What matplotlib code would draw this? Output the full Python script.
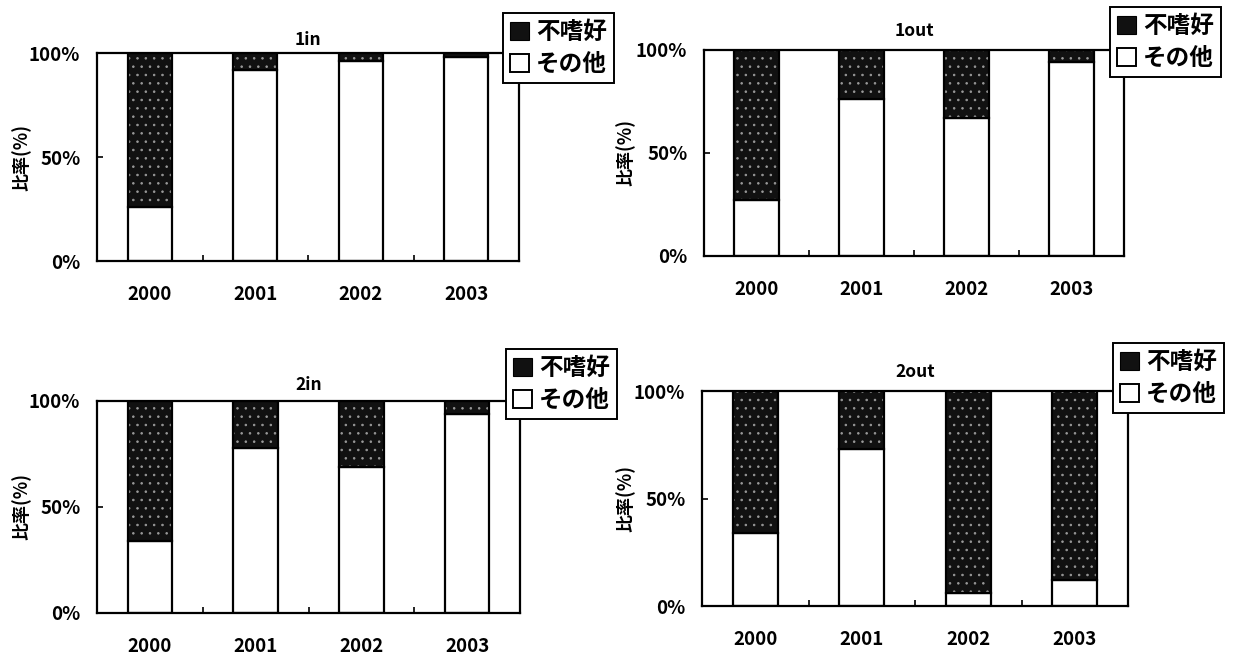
import matplotlib
matplotlib.use("Agg")
import matplotlib.pyplot as plt
from matplotlib.patches import Patch
from matplotlib.ticker import FixedLocator

plt.rcParams['font.family'] = ['Noto Sans CJK JP', 'DejaVu Sans']
plt.rcParams['font.weight'] = 'bold'
plt.rcParams['hatch.linewidth'] = 0.6

years = ['2000', '2001', '2002', '2003']
panel_titles = ['1in', '1out', '2in', '2out']

# share (%) of "その他" per year; "不嗜好" is the remainder up to 100%
other_1in = [26, 92, 96, 98]
other_1out = [27, 76, 67, 94]
other_2in = [34, 78, 69, 94]
other_2out = [34, 73, 6, 12]

dislike_1in = [100 - v for v in other_1in]
dislike_1out = [100 - v for v in other_1out]
dislike_2in = [100 - v for v in other_2in]
dislike_2out = [100 - v for v in other_2out]

series = [
    (other_1in, dislike_1in),
    (other_1out, dislike_1out),
    (other_2in, dislike_2in),
    (other_2out, dislike_2out),
]

W, H = 1234, 655
fig = plt.figure(figsize=(W / 100, H / 100), dpi=100)
fig.patch.set_facecolor('white')

# axes boxes in pixels: left, top, right, bottom
boxes = [
    (97, 53, 519, 261),
    (704, 50, 1124, 256),
    (97, 401, 520, 613),
    (702, 391, 1128, 606),
]
# legend upper-left corners and y-label right edge, in pixels
legend_pos = [(503, 13), (1110, 7), (506, 349), (1113, 343)]
ylabel_x = [32, 636, 32, 636]
title_pad = [6, 10, 8, 10]

DARK = '#111111'
bar_w = 0.42

for i, (ax_box, (other, dislike)) in enumerate(zip(boxes, series)):
    l, t, r, b = ax_box
    ax = fig.add_axes([l / W, 1 - b / H, (r - l) / W, (b - t) / H])
    x = list(range(len(years)))

    ax.bar(x, other, width=bar_w, color='white', edgecolor='black',
           linewidth=1.6, zorder=2)
    ax.bar(x, dislike, bottom=other, width=bar_w, color=DARK,
           edgecolor='#9a9a9a', hatch='..', linewidth=0, zorder=2)
    ax.bar(x, dislike, bottom=other, width=bar_w, fill=False,
           edgecolor='black', linewidth=1.6, zorder=3)

    ax.set_xlim(-0.5, len(years) - 0.5)
    ax.set_ylim(0, 100)
    ax.set_yticks([0, 50, 100])
    ax.set_yticklabels(['0%', '50%', '100%'])
    ax.set_xticks(x)
    ax.set_xticklabels(years)
    ax.xaxis.set_minor_locator(FixedLocator([0.5, 1.5, 2.5]))
    ax.tick_params(axis='x', which='major', length=0, pad=17, labelsize=13.5)
    ax.tick_params(axis='x', which='minor', direction='in', length=4,
                   width=1.2)
    ax.tick_params(axis='y', direction='in', length=4, width=1.2, pad=12,
                   labelsize=13.5)
    for lab in ax.get_xticklabels() + ax.get_yticklabels():
        lab.set_fontweight('bold')

    for sp in ax.spines.values():
        sp.set_linewidth(1.6)
        sp.set_color('black')

    ax.set_title(panel_titles[i], fontsize=12.5, fontweight='bold',
                 pad=title_pad[i])
    ax.set_ylabel('比率(%)', fontsize=13, fontweight='bold')
    ax.yaxis.set_label_coords((ylabel_x[i] - l) / (r - l), 0.5)

    handles = [
        Patch(facecolor=DARK, edgecolor='black', linewidth=0.8),
        Patch(facecolor='white', edgecolor='black', linewidth=1.4),
    ]
    lx, ly = legend_pos[i]
    leg = ax.legend(handles, ['不嗜好', 'その他'], loc='upper left',
                    bbox_to_anchor=(lx / W, 1 - ly / H),
                    bbox_transform=fig.transFigure,
                    fancybox=False, framealpha=1, edgecolor='black',
                    prop={'size': 17, 'weight': 'bold'},
                    handlelength=0.8, handleheight=0.8, handletextpad=0.3,
                    labelspacing=0.35, borderpad=0.3, borderaxespad=0)
    leg.get_frame().set_linewidth(1.4)
    leg.set_zorder(5)

fig.savefig('out.png', dpi=100, facecolor='white')
